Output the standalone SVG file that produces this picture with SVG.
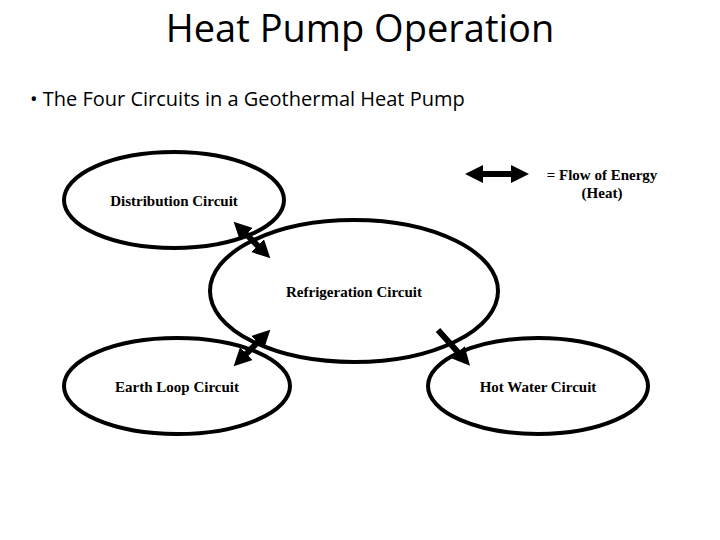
<svg xmlns="http://www.w3.org/2000/svg" width="720" height="540" viewBox="0 0 720 540">
<style>
.e{fill:none;stroke:#000;stroke-width:4}
.a{stroke:#000;stroke-width:6}
.t{font-family:"Liberation Serif",serif;font-weight:bold;font-size:15px;text-anchor:middle}
.h{font-family:"Open Sans","Liberation Sans",sans-serif}
</style>
<defs>
<marker id="ah" viewBox="0 0 10 10" refX="5" refY="5" markerWidth="3" markerHeight="3" orient="auto-start-reverse" markerUnits="strokeWidth"><path d="M0,0L10,5L0,10z"/></marker>
</defs>
<rect width="720" height="540" fill="#fff"/>
<text x="360" y="42" class="h" font-size="38" text-anchor="middle">Heat Pump Operation</text>
<text x="30" y="106" class="h" font-size="20">•  The Four Circuits in a Geothermal Heat Pump</text>
<g id="distribution"><ellipse class="e" cx="174" cy="200" rx="110" ry="48"/><text class="t" x="174" y="206">Distribution Circuit</text></g>
<g id="refrigeration"><ellipse class="e" cx="354" cy="291" rx="144" ry="71"/><text class="t" x="354" y="297">Refrigeration Circuit</text></g>
<g id="earth"><ellipse class="e" cx="177" cy="386" rx="113" ry="48"/><text class="t" x="177" y="392">Earth Loop Circuit</text></g>
<g id="hotwater"><ellipse class="e" cx="538" cy="386" rx="110" ry="48"/><text class="t" x="538" y="392">Hot Water Circuit</text></g>
<g id="legend"><text class="t" x="602" y="180">= Flow of Energy</text><text class="t" x="602" y="198">(Heat)</text></g>
<g id="connectors">
<line class="a" x1="474" y1="174" x2="520" y2="174" marker-start="url(#ah)" marker-end="url(#ah)"/>
<line class="a" x1="240" y1="228" x2="264" y2="252" marker-start="url(#ah)" marker-end="url(#ah)"/>
<line class="a" x1="240" y1="360" x2="264" y2="336" marker-start="url(#ah)" marker-end="url(#ah)"/>
<line class="a" x1="438" y1="330" x2="464" y2="359" marker-end="url(#ah)"/>
</g>
</svg>
